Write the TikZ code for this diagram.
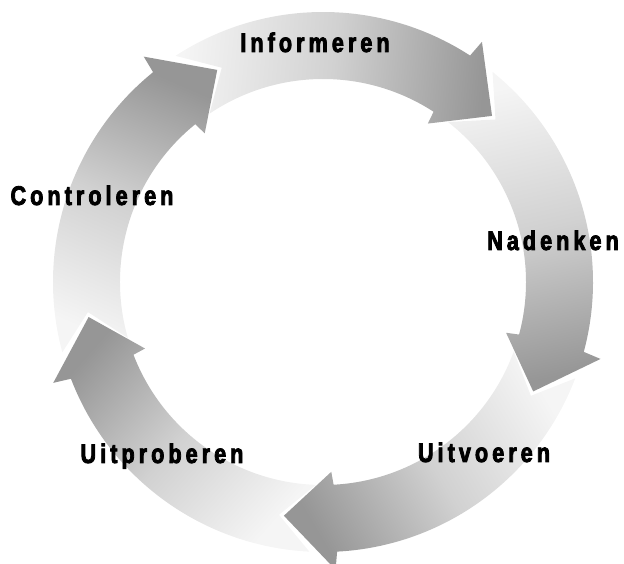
\documentclass[tikz,border=0pt]{standalone}
\usepackage{fontspec}
\usepackage{tikz}
\newfontfamily\cyclefont{Liberation Sans}[FakeStretch=0.8,LetterSpace=15,BoldFeatures={FakeBold=3}]
\definecolor{cyclelight}{gray}{0.96}
\definecolor{cyclemid}{gray}{0.82}
\definecolor{cycledark}{gray}{0.59}
\pgfdeclarehorizontalshading{cycleshade}{100bp}{color(0bp)=(cyclelight); color(25bp)=(cyclelight); color(50bp)=(cyclemid); color(75bp)=(cycledark); color(100bp)=(cycledark)}
\tikzset{
  cyclearrow/.style={shading=cycleshade, shading angle=#1},
  cyclelabel/.style={anchor=base, inner sep=0pt, font=\cyclefont\bfseries\fontsize{27}{27}\selectfont}
}

\begin{document}
\begin{tikzpicture}
\useasboundingbox (-323pt,-282pt) rectangle (301pt,282pt);
\foreach \t [evaluate=\t as \sa using \t-50] in {44.5,-27.5,-99.5,-171.5,-243.5}
  \shade[cyclearrow=\sa] (\t+78.6:270pt) arc[start angle=\t+78.6, end angle=\t+12.5, radius=270pt]
    -- (\t+12:288pt) -- (\t:237pt) -- (\t+12:190pt) -- (\t+12.5:203pt)
    arc[start angle=\t+12.5, end angle=\t+79.5, radius=203pt]
    -- (\t+70.8:237pt) -- cycle ;
\node[cyclelabel] (informeren) at (-8pt,230pt) {Informeren} ;
\node[cyclelabel] (nadenken) at (230pt,32pt) {Nadenken} ;
\node[cyclelabel] (uitvoeren) at (161pt,-180pt) {Uitvoeren} ;
\node[cyclelabel] (uitproberen) at (-161pt,-181pt) {Uitproberen} ;
\node[cyclelabel] (controleren) at (-231pt,77pt) {Controleren} ;
\end{tikzpicture}
\end{document}
